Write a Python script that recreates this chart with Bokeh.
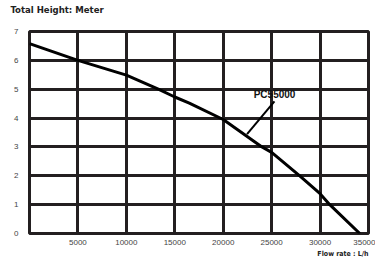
from bokeh.plotting import figure
from bokeh.models import FixedTicker, Range1d, Title
from bokeh.core.properties import value
from bokeh.embed import file_html
from bokeh.resources import INLINE

# Pump curve (flow rate L/h vs total head m)
flow = [0, 5000, 10000, 13300, 15000, 16500, 20000, 24000, 25000, 27900, 30000, 31000, 34100]
head = [6.58, 6.0, 5.49, 5.0, 4.73, 4.52, 3.95, 3.0, 2.81, 2.0, 1.38, 1.0, 0.0]

x_ticks = [5000, 10000, 15000, 20000, 25000, 30000, 35000]
y_ticks = [0, 1, 2, 3, 4, 5, 6, 7]

model_name = "PC55000"
label_pos = (25300, 4.81)
pointer_x = [25290, 22460]
pointer_y = [4.58, 3.44]

INK = "#231f20"
TITLE_FONT = "DejaVu Sans Condensed"

p = figure(width=375, height=259, output_backend="svg", toolbar_location=None,
           title=None,
           x_range=Range1d(0, 35000), y_range=Range1d(0, 7),
           min_border_left=29, min_border_right=7, min_border_top=31, min_border_bottom=26)

# spacer between title and frame
p.add_layout(Title(text=" ", text_font_size="13px", standoff=0), "above")
p.add_layout(Title(text="Total Height: Meter", text_font=TITLE_FONT, text_font_style="bold",
                   text_font_size="9.5px", text_color="#222222", offset=-19, standoff=0),
             "above")

p.add_layout(Title(text="Flow rate : L/h", align="right", text_font=TITLE_FONT,
                   text_font_style="bold", text_font_size="7px", text_color="#222222",
                   standoff=0), "below")

p.outline_line_color = INK
p.outline_line_width = 3

for ax in (p.xaxis[0], p.yaxis[0]):
    ax.axis_line_color = None
    ax.major_tick_line_color = None
    ax.minor_tick_line_color = None
    ax.major_label_text_font = "Liberation Sans"
    ax.major_label_text_font_size = "8px"
    ax.major_label_text_color = "#444444"

p.xaxis.ticker = FixedTicker(ticks=x_ticks)
p.yaxis.ticker = FixedTicker(ticks=y_ticks)
p.xaxis.major_label_standoff = 0
p.yaxis.major_label_standoff = 5

p.xgrid.ticker = FixedTicker(ticks=x_ticks)
p.ygrid.ticker = FixedTicker(ticks=y_ticks)
for g in (p.xgrid[0], p.ygrid[0]):
    g.grid_line_color = INK
    g.grid_line_width = 3
    g.grid_line_alpha = 1.0

p.line(flow, head, line_color="black", line_width=3)
p.line(pointer_x, pointer_y, line_color="black", line_width=2)
p.text(x=[label_pos[0]], y=[label_pos[1]], text=[model_name], text_align="center",
       text_baseline="middle", text_font_size="10px", text_font_style="bold",
       text_color="#111111", text_font=value("Liberation Sans"))

open("out.html", "w").write(file_html(p, INLINE))
